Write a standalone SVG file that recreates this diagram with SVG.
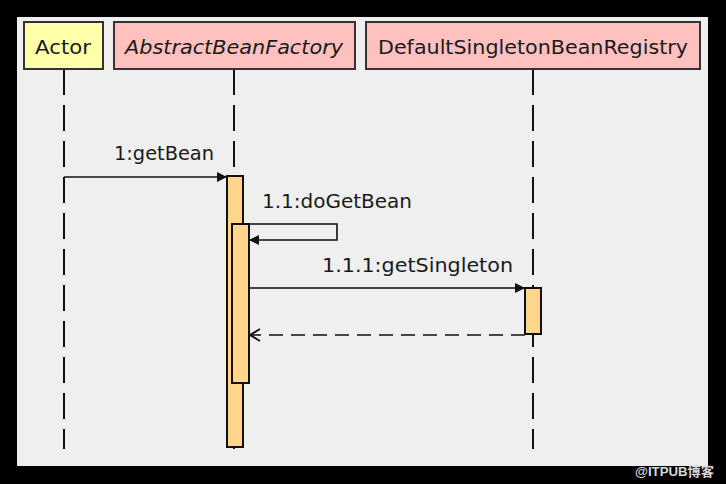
<svg xmlns="http://www.w3.org/2000/svg" width="726" height="484" viewBox="0 0 726 484">
<defs>
<style>
.txt{font-family:"DejaVu Sans","Liberation Sans",sans-serif;font-size:20px;fill:#1a1a1a}
.head{stroke:#333;stroke-width:2}
.life{stroke:#111;stroke-width:2;stroke-dasharray:26 10;fill:none}
.act{fill:#FFD68C;stroke:#111;stroke-width:2}
.msg{stroke:#111;stroke-width:1.6;fill:none}
.ret{stroke:#111;stroke-width:1.6;fill:none;stroke-dasharray:14 8}
</style>
<marker id="filled" viewBox="0 0 10 10" refX="10" refY="5" markerWidth="10" markerHeight="10" markerUnits="userSpaceOnUse" orient="auto">
<path d="M0,0 L10,5 L0,10 Z" fill="#111"/>
</marker>
<marker id="open" viewBox="0 0 12 14" refX="11" refY="7" markerWidth="12" markerHeight="14" markerUnits="userSpaceOnUse" orient="auto">
<path d="M1,1 L11,7 L1,13" fill="none" stroke="#111" stroke-width="1.8"/>
</marker>
</defs>
<rect x="0" y="0" width="726" height="484" fill="#000"/>
<rect x="17" y="17" width="691" height="449" fill="#EFEFEF"/>
<g id="lifelines">
<line class="life" x1="64" y1="69" x2="64" y2="449"/>
<line class="life" x1="234" y1="69" x2="234" y2="449"/>
<line class="life" x1="533" y1="69" x2="533" y2="449"/>
</g>
<g id="actor">
<rect class="head" x="24" y="22" width="79" height="47" fill="#FFFFAA"/>
<text class="txt" x="35" y="54" textLength="56" lengthAdjust="spacingAndGlyphs">Actor</text>
</g>
<g id="abstractBeanFactory">
<rect class="head" x="114" y="22" width="241" height="47" fill="#FFC0C0"/>
<text class="txt" x="125" y="54" font-style="italic" textLength="218" lengthAdjust="spacingAndGlyphs">AbstractBeanFactory</text>
<rect class="act" x="227" y="176" width="16" height="271"/>
<rect class="act" x="232" y="224" width="17" height="159"/>
</g>
<g id="defaultSingletonBeanRegistry">
<rect class="head" x="366" y="22" width="334" height="47" fill="#FFC0C0"/>
<text class="txt" x="378" y="54" textLength="310" lengthAdjust="spacingAndGlyphs">DefaultSingletonBeanRegistry</text>
<rect class="act" x="525" y="288" width="16" height="46"/>
</g>
<g id="connectors">
<line class="msg" x1="64" y1="177" x2="227" y2="177" marker-end="url(#filled)"/>
<text class="txt" x="114" y="160" textLength="100" lengthAdjust="spacingAndGlyphs">1:getBean</text>
<path class="msg" d="M249,224 L337,224 L337,240 L249,240" marker-end="url(#filled)"/>
<text class="txt" x="262" y="208" textLength="150" lengthAdjust="spacingAndGlyphs">1.1:doGetBean</text>
<line class="msg" x1="249" y1="288" x2="525" y2="288" marker-end="url(#filled)"/>
<text class="txt" x="322" y="272" textLength="191" lengthAdjust="spacingAndGlyphs">1.1.1:getSingleton</text>
<line class="ret" x1="525" y1="335" x2="250" y2="335" marker-end="url(#open)"/>
</g>
<text x="635" y="476" font-family="'Liberation Sans','Noto Sans CJK SC',sans-serif" font-size="13" font-weight="bold" fill="#d8d8d8" textLength="79" lengthAdjust="spacingAndGlyphs">@ITPUB博客</text>
</svg>
